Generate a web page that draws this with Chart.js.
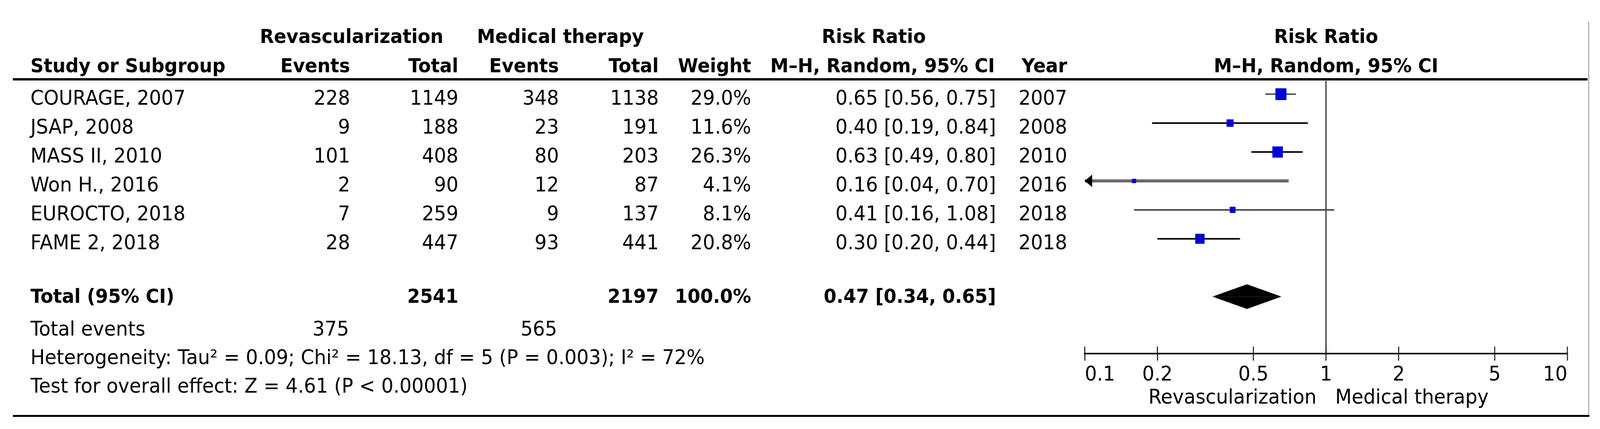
<!DOCTYPE html>
<html>
<head>
<meta charset="utf-8">
<script src="https://cdn.jsdelivr.net/npm/chart.js@4.4.1/dist/chart.umd.min.js"></script>
<style>
  html, body { margin: 0; padding: 0; background: #fff; overflow: hidden; }
  #forest { display: block; }
</style>
</head>
<body>
<canvas id="forest" width="4360" height="1098" style="width: 100vw; height: 100vh;"></canvas>
<script>
// study data
const studies = ['COURAGE, 2007', 'JSAP, 2008', 'MASS II, 2010', 'Won H., 2016', 'EUROCTO, 2018', 'FAME 2, 2018'];
const revEvents = [228, 9, 101, 2, 7, 28];
const revTotal = [1149, 188, 408, 90, 259, 447];
const medEvents = [348, 23, 80, 12, 9, 93];
const medTotal = [1138, 191, 203, 87, 137, 441];
const weights = [29.0, 11.6, 26.3, 4.1, 8.1, 20.8];
const riskRatio = [0.65, 0.40, 0.63, 0.16, 0.41, 0.30];
const ciLow = [0.56, 0.19, 0.49, 0.04, 0.16, 0.20];
const ciHigh = [0.75, 0.84, 0.80, 0.70, 1.08, 0.44];
const years = [2007, 2008, 2010, 2016, 2018, 2018];

// pooled estimate
const pooled = [0.47, 0.34, 0.65];
const pooledWeight = '100.0%';
const heterogeneity = 'Heterogeneity: Tau\u00B2 = 0.09; Chi\u00B2 = 18.13, df = 5 (P = 0.003); I\u00B2 = 72%';
const overallEffect = 'Test for overall effect: Z = 4.61 (P < 0.00001)';

// axis
const tickValues = [0.1, 0.2, 0.5, 1, 2, 5, 10];
const tickLabels = ['0.1', '0.2', '0.5', '1', '2', '5', '10'];
const favoursLeft = 'Revascularization';
const favoursRight = 'Medical therapy';

// row layout (y units = table rows)
const totalRow = 7;
const diamondHalf = 0.42;
const ciColors = ['#555', '#000', '#000', '#6a6a6a', '#444', '#000'];
const ciWidths = [4, 4, 4, 8, 4, 4];

const FONT = '52px "DejaVu Sans"';
const FONT_BOLD = 'bold 50px "DejaVu Sans"';
const METHOD = 'M\u2013H, Random, 95% CI';

const sum = arr => arr.reduce((a, b) => a + b, 0);

// column anchors (pixels)
const col = { name: 83, e1: 954, t1: 1249, e2: 1523, t2: 1795, w: 2047, ci: 2714, year: 2908 };

const tablePlugin = {
    id: 'forestTable',
    afterDraw(chart) {
        const ctx = chart.ctx;
        const xs = chart.scales.x;
        const ys = chart.scales.y;
        const area = chart.chartArea;
        const nullX = xs.getPixelForValue(1);

        function text(str, px, py, align, bold) {
            ctx.font = bold ? FONT_BOLD : FONT;
            ctx.textAlign = align;
            ctx.fillText(str, px, py);
        }

        ctx.save();
        ctx.fillStyle = '#000';
        ctx.textBaseline = 'alphabetic';

        // headers
        text('Revascularization', 958, 110, 'center', true);
        text('Medical therapy', 1527, 110, 'center', true);
        text('Risk Ratio', 2381, 110, 'center', true);
        text('Risk Ratio', nullX, 110, 'center', true);
        text('Study or Subgroup', col.name, 185, 'left', true);
        text('Events', col.e1, 185, 'right', true);
        text('Total', col.t1, 185, 'right', true);
        text('Events', col.e2, 185, 'right', true);
        text('Total', col.t2, 185, 'right', true);
        text('Weight', col.w, 185, 'right', true);
        text(METHOD, 2405, 185, 'center', true);
        text('Year', col.year, 185, 'right', true);
        text(METHOD, nullX, 185, 'center', true);

        // study rows
        studies.forEach((name, i) => {
            const by = ys.getPixelForValue(i) + 27;
            text(name, col.name, by, 'left');
            text(String(revEvents[i]), col.e1, by, 'right');
            text(String(revTotal[i]), col.t1, by, 'right');
            text(String(medEvents[i]), col.e2, by, 'right');
            text(String(medTotal[i]), col.t2, by, 'right');
            text(weights[i].toFixed(1) + '%', col.w, by, 'right');
            text(riskRatio[i].toFixed(2) + ' [' + ciLow[i].toFixed(2) + ', ' + ciHigh[i].toFixed(2) + ']', col.ci, by, 'right');
            text(String(years[i]), col.year, by, 'right');
        });

        // total rows
        const ty = ys.getPixelForValue(totalRow) + 16;
        text('Total (95% CI)', col.name, ty, 'left', true);
        text(String(sum(revTotal)), col.t1, ty, 'right', true);
        text(String(sum(medTotal)), col.t2, ty, 'right', true);
        text(pooledWeight, col.w, ty, 'right', true);
        text(pooled[0].toFixed(2) + ' [' + pooled[1].toFixed(2) + ', ' + pooled[2].toFixed(2) + ']', col.ci, ty, 'right', true);

        const ey = ys.getPixelForValue(totalRow + 1) + 26;
        text('Total events', col.name, ey, 'left');
        text(String(sum(revEvents)), col.e1 - 3, ey, 'right');
        text(String(sum(medEvents)), col.e2 - 5, ey, 'right');
        text(heterogeneity, col.name, ys.getPixelForValue(totalRow + 2) + 25, 'left');
        text(overallEffect, col.name, ys.getPixelForValue(totalRow + 3) + 24, 'left');

        // favours labels
        text(favoursLeft, nullX - 26, 1033, 'right');
        text(favoursRight, nullX + 25, 1033, 'left');

        // arrows for intervals running off the axis
        ctx.fillStyle = '#000';
        ciLow.forEach((lo, i) => {
            if (lo < xs.min) {
                const px = xs.getPixelForValue(xs.min);
                const py = ys.getPixelForValue(i);
                ctx.beginPath();
                ctx.moveTo(px, py);
                ctx.lineTo(px + 20, py - 16);
                ctx.lineTo(px + 20, py + 16);
                ctx.closePath();
                ctx.fill();
            }
        });

        // upper half of the axis ticks
        ctx.strokeStyle = '#000';
        ctx.lineWidth = 2.5;
        xs.ticks.forEach(t => {
            const px = xs.getPixelForValue(t.value);
            ctx.beginPath();
            ctx.moveTo(px, area.bottom);
            ctx.lineTo(px, area.bottom - 18);
            ctx.stroke();
        });

        // table rules
        ctx.lineWidth = 6;
        ctx.beginPath();
        ctx.moveTo(35, area.top - 4);
        ctx.lineTo(4326, area.top - 4);
        ctx.stroke();
        ctx.lineWidth = 5;
        ctx.beginPath();
        ctx.moveTo(35, 1064.5);
        ctx.lineTo(4331, 1064.5);
        ctx.stroke();
        ctx.strokeStyle = '#aaa';
        ctx.lineWidth = 3;
        ctx.beginPath();
        ctx.moveTo(4329, 57);
        ctx.lineTo(4329, 1062);
        ctx.stroke();
        ctx.restore();
    }
};

const datasets = [];

// study squares
datasets.push({
    data: riskRatio.map((v, i) => ({ x: v, y: i })),
    pointStyle: 'rect',
    pointRadius: ctx => 3.96 * Math.sqrt(weights[ctx.dataIndex]),
    backgroundColor: '#0000d0',
    borderColor: '#0000d0',
    borderWidth: 0,
    order: 0
});

// confidence intervals
studies.forEach((s, i) => {
    datasets.push({
        data: [{ x: ciLow[i], y: i }, { x: ciHigh[i], y: i }],
        showLine: true,
        borderColor: ciColors[i],
        borderWidth: ciWidths[i],
        pointRadius: 0,
        clip: 0,
        order: 1
    });
});

// pooled diamond, upper and lower halves filled to the row line
[-diamondHalf, diamondHalf].forEach(h => {
    datasets.push({
        data: [
            { x: pooled[1], y: totalRow },
            { x: pooled[0], y: totalRow + h },
            { x: pooled[2], y: totalRow }
        ],
        showLine: true,
        borderColor: '#000',
        borderWidth: 1,
        backgroundColor: '#000',
        fill: { value: totalRow },
        tension: 0,
        pointRadius: 0,
        order: 1
    });
});

new Chart(document.getElementById('forest'), {
    type: 'scatter',
    data: { datasets },
    options: {
        responsive: false,
        animation: false,
        devicePixelRatio: 1,
        layout: { padding: { left: 2956, right: 89, top: 207, bottom: 0 }, autoPadding: false },
        plugins: { legend: { display: false }, tooltip: { enabled: false } },
        events: [],
        scales: {
            x: {
                type: 'logarithmic',
                min: 0.1,
                max: 10,
                position: 'bottom',
                afterBuildTicks: scale => { scale.ticks = tickValues.map(v => ({ value: v })); },
                afterFit: scale => { scale.height = 193; },
                ticks: {
                    autoSkip: false,
                    maxRotation: 0,
                    align: 'inner',
                    padding: 6,
                    color: '#000',
                    font: { family: 'DejaVu Sans', size: 52 },
                    callback: (value, index) => tickLabels[index]
                },
                grid: {
                    drawOnChartArea: true,
                    color: ctx => (ctx.tick && ctx.tick.value === 1 ? '#000' : 'rgba(0,0,0,0)'),
                    lineWidth: 2.5,
                    tickLength: 18,
                    tickColor: '#000',
                    tickWidth: 2.5
                },
                border: { display: true, color: '#000', width: 4 }
            },
            y: {
                type: 'linear',
                reverse: true,
                min: -0.46,
                max: 8.97,
                display: false
            }
        }
    },
    plugins: [tablePlugin]
});
</script>
</body>
</html>
